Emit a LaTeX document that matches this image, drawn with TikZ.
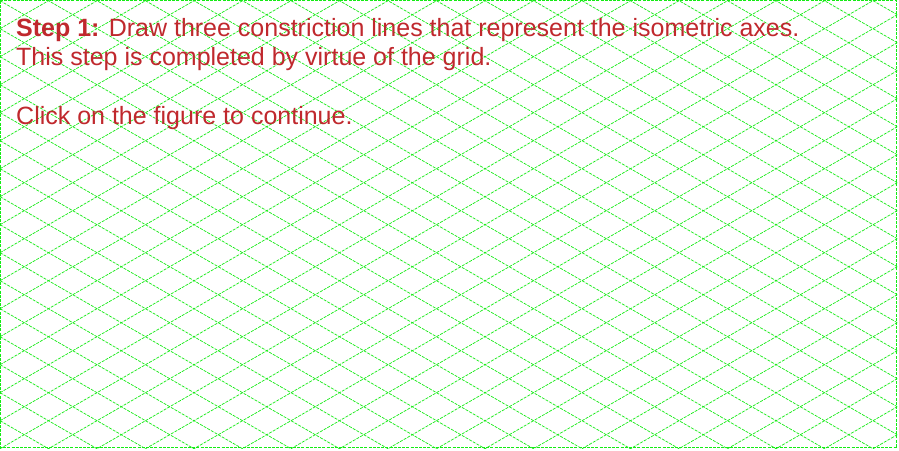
\documentclass[tikz,border=0pt]{standalone}
\usepackage{fontspec}
\setmainfont{Liberation Sans}
\definecolor{gridgreen}{RGB}{20,235,20}
\definecolor{stepred}{RGB}{192,40,45}
\begin{document}
\begin{tikzpicture}[x=1pt,y=-1pt,
  gridline/.style={draw=gridgreen,line width=0.7pt,dash pattern=on 3pt off 1.2pt},
  steptext/.style={anchor=base west,inner sep=0pt,text=stepred,font=\fontsize{25}{29}\selectfont}]
\useasboundingbox (0,0) rectangle (899,450);
\fill[white] (0,0) rectangle (899,450);
\begin{scope}
\clip (0,0) rectangle (897,448.5);
\foreach \k in {-19,...,17} \draw[gridline] (0,{28*\k+0.7}) -- (899,{28*\k+0.7+519});
\foreach \k in {0,...,35} \draw[gridline] (0,{28*\k+0.7}) -- (899,{28*\k+0.7-519});
\end{scope}
\draw[gridline] (0.8,0.8) rectangle (896.8,447.8);
\node[steptext] (l1) at (16,36) {\textbf{Step 1:} Draw three constriction lines that represent the isometric axes.};
\node[steptext] (l2) at (16,65) {This step is completed by virtue of the grid.};
\node[steptext] (l3) at (16,124) {Click on the figure to continue.};
\end{tikzpicture}
\end{document}
